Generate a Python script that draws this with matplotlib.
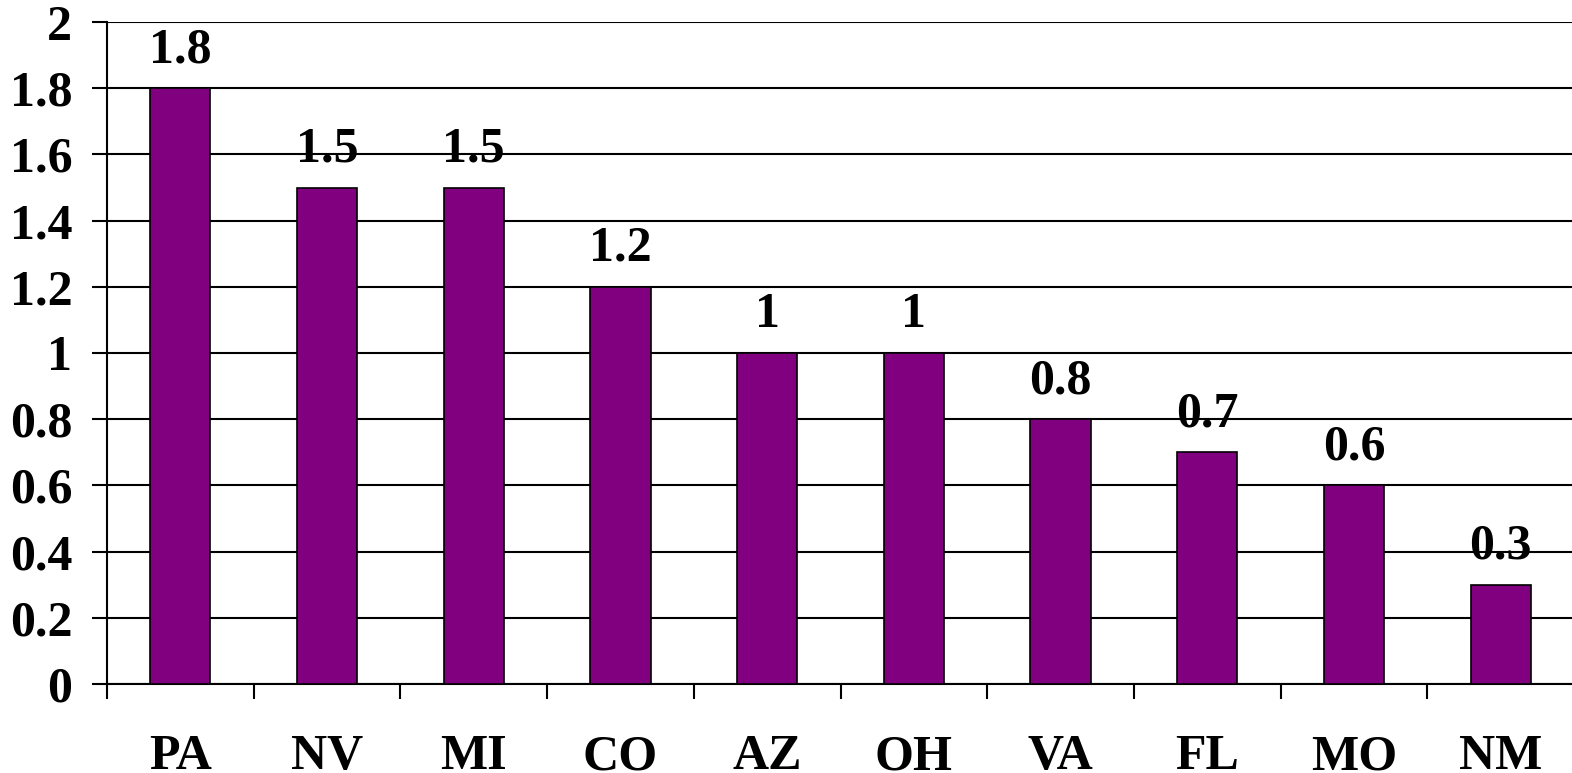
import matplotlib.pyplot as plt
import numpy as np

states = ['PA', 'NV', 'MI', 'CO', 'AZ', 'OH', 'VA', 'FL', 'MO', 'NM']
values = [1.8, 1.5, 1.5, 1.2, 1.0, 1.0, 0.8, 0.7, 0.6, 0.3]
yticks = [0, 0.2, 0.4, 0.6, 0.8, 1, 1.2, 1.4, 1.6, 1.8, 2]
ytick_labels = ['0', '0.2', '0.4', '0.6', '0.8', '1', '1.2', '1.4', '1.6', '1.8', '2']

plt.rcParams['font.family'] = ['Liberation Serif', 'DejaVu Serif']
plt.rcParams['font.weight'] = 'bold'

fig = plt.figure(figsize=(15.72, 7.73), dpi=100)
ax = fig.add_axes([107 / 1572, 89 / 773, 1467 / 1572, 662 / 773])

x = np.arange(len(states))
ax.bar(x, values, width=0.41, color='#800080', edgecolor='black', linewidth=1.2, zorder=3)

for xi, v in zip(x, values):
    lbl = f'{v:g}'
    ax.text(xi, v + 0.045, lbl, ha='center', va='bottom', fontsize=36, fontweight='bold', zorder=4)

ax.set_xlim(-0.5, len(states) - 0.5)
ax.set_ylim(0, 2)
ax.set_yticks(yticks)
ax.set_yticklabels(ytick_labels, fontsize=36, fontweight='bold')
ax.yaxis.grid(True, color='black', linewidth=1.5, zorder=0)
ax.set_axisbelow(True)

ax.set_xticks(x)
ax.set_xticklabels(states, fontsize=36, fontweight='bold')
ax.set_xticks(np.arange(-0.5, len(states)), minor=True)
ax.tick_params(axis='x', which='major', length=0, pad=36)
ax.tick_params(axis='x', which='minor', length=11, width=1.5)
ax.tick_params(axis='y', length=11, width=1.5, pad=14)

for s in ['top', 'right']:
    ax.spines[s].set_visible(False)
for s in ['left', 'bottom']:
    ax.spines[s].set_linewidth(1.5)

fig.savefig('out.png', dpi=100)
